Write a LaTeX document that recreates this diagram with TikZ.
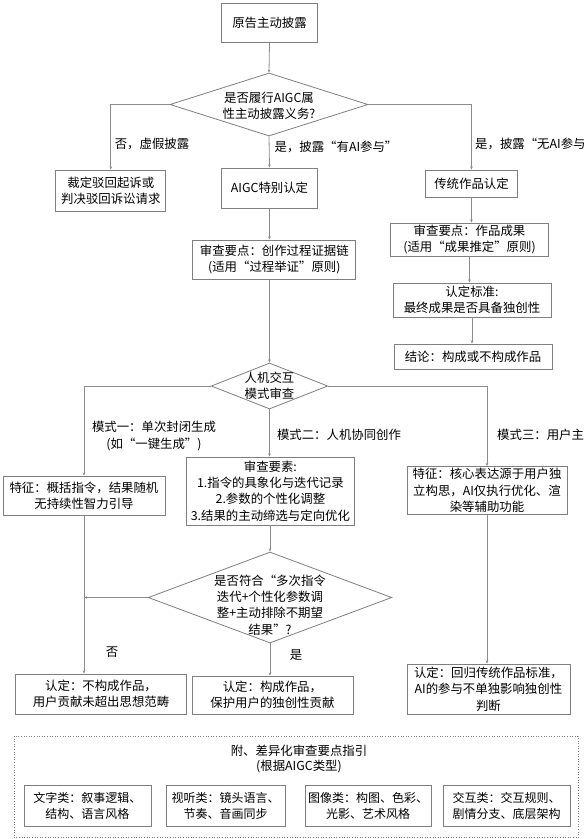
\documentclass[tikz,border=0pt]{standalone}
\usepackage{fontspec}
\setmainfont{Noto Sans CJK SC}
\usetikzlibrary{shapes.geometric,arrows.meta}
\definecolor{edgec}{HTML}{7F7F7F}
\definecolor{linec}{HTML}{8C8C8C}
\begin{document}
\begin{tikzpicture}[x=1pt,y=-1pt,
  every node/.style={font=\fontsize{12.4}{16.4}\selectfont, inner sep=0pt, align=center, text=black},
  box/.style={draw=edgec, line width=0.8pt, rectangle},
  dia/.style={draw=edgec, line width=0.8pt, diamond},
  arr/.style={draw=linec, line width=0.8pt, -{Stealth[length=3.2pt,width=2.6pt]}},
  ln/.style={draw=linec, line width=0.8pt},
  small/.style={font=\fontsize{12}{16}\selectfont}]
\useasboundingbox (0,0) rectangle (584,839);

% top part
\node[box, minimum width=96pt, minimum height=39pt] (n1) at (269.5,22.5) {原告主动披露};
\node[dia, minimum width=198pt, minimum height=63pt] (d1) at (269,104.5) {};
\node (d1t) at (269,106) {是否履行AIGC属\\性主动披露义务?};
\node[box, minimum width=110pt, minimum height=41pt] (bleft) at (110.8,190.5) {裁定驳回起诉或\\判决驳回诉讼请求};
\node[box, minimum width=96pt, minimum height=40pt] (baigc) at (269.5,188) {AIGC特别认定};
\node[box, minimum width=92pt, minimum height=27pt] (btrad) at (471.5,183.5) {传统作品认定};

\node (l1) at (152,144) {否，虚假披露};
\node (l2) at (336,147) {是，披露“有AI参与”};
\node[anchor=west] (l3) at (475,144) {是，披露“无AI参与};

\draw[arr] (n1.south) -- (d1.north);
\draw[arr] (d1.west) -| (bleft.north);
\draw[arr] (d1.south) -- (baigc.north);
\draw[arr] (d1.east) -| (btrad.north);

% middle column
\node[box, minimum width=163pt, minimum height=39pt] (bproc) at (274.3,259.5) {审查要点：创作过程证据链\\(适用“过程举证”原则)};
\node[box, minimum width=158pt, minimum height=33pt] (bres) at (469.5,239.5) {审查要点：作品成果\\(适用“成果推定”原则)};
\node[box, minimum width=158pt, minimum height=34pt] (bstd) at (472,300) {认定标准:\\最终成果是否具备独创性};
\node[box, minimum width=158pt, minimum height=25pt] (bcon) at (473,356.5) {结论：构成或不构成作品};

\draw[arr] (baigc.south) -- (baigc.south |- bproc.north);
\draw[arr] (btrad.south) -- (btrad.south |- bres.north);
\draw[arr] (bres.south) -- (bres.south |- bstd.north);
\draw[arr] (bstd.south) -- (bstd.south |- bcon.north);

\node[dia, minimum width=116.5pt, minimum height=46pt] (d2) at (269.5,386) {};
\node (d2t) at (269.5,385.5) {人机交互\\模式审查};
\draw[arr] (d2.north |- bproc.south) -- (d2.north);

\node[box, minimum width=162pt, minimum height=39pt] (bf1) at (84,495.5) {特征：概括指令，结果随机\\无持续性智力引导};
\node[box, minimum width=168pt, minimum height=68pt] (belem) at (270.4,491) {审查要素:\\1.指令的具象化与迭代记录\\2.参数的个性化调整\\3.结果的主动缔选与定向优化};
\node[box, minimum width=160pt, minimum height=48pt] (bf3) at (487,490.5) {特征：核心表达源于用户独\\立构思，AI仅执行优化、渲\\染等辅助功能};

\node (m1) at (154,436) {模式一：单次封闭生成\\(如“一键生成”)};
\node (m2) at (339,435) {模式二：人机协同创作};
\node[anchor=west] (m3) at (497,435) {模式三：用户主};

\draw[arr] (d2.west) -| (bf1.north);
\draw[arr] (d2.south) -- (d2.south |- belem.north);
\draw[arr] (d2.east) -| (bf3.north);

\node[dia, minimum width=243.6pt, minimum height=91pt] (d3) at (270,597.5) {};
\node (d3t) at (270,605) {是否符合“多次指令\\迭代+个性化参数调\\整+主动排除不期望\\结果”?};
\draw[arr] (d3.north |- belem.south) -- (d3.north);

\node[box, minimum width=170.6pt, minimum height=40pt] (bno) at (101,694) {认定：不构成作品，\\用户贡献未超出思想范畴};
\node[box, minimum width=161pt, minimum height=38pt] (byes) at (272.4,695) {认定：构成作品，\\保护用户的独创性贡献};
\node[box, minimum width=163pt, minimum height=50pt] (btrad2) at (488.4,689) {认定：回归传统作品标准，\\AI的参与不单独影响独创性\\判断};

\node (lno) at (112,652) {否};
\node (lyes) at (296,655) {是};

\draw[arr] (bf1.south) -- (bf1.south |- bno.north);
\draw[arr] (d3.west) -- (d3.west -| bf1.south);
\draw[arr] (d3.south) -- (d3.south |- byes.north);
\draw[arr] (bf3.south) -- (bf3.south |- btrad2.north);

% appendix
\draw[draw=edgec, line width=0.6pt, dotted] (14,736) rectangle (578,837.5);
\node[font=\fontsize{12.4}{15}\selectfont] (title) at (299,759) {附、差异化审查要点指引\\(根据AIGC类型)};
\node[box, small, minimum width=127pt, minimum height=41pt] (g1) at (87.5,805.5) {文字类：叙事逻辑、\\结构、语言风格};
\node[box, small, minimum width=119pt, minimum height=41pt] (g2) at (225.5,805.5) {视听类：镜头语言、\\节奏、音画同步};
\node[box, small, minimum width=126pt, minimum height=41pt] (g3) at (368,805.5) {图像类：构图、色彩、\\光影、艺术风格};
\node[box, small, minimum width=127pt, minimum height=41pt] (g4) at (506.5,805.5) {交互类：交互规则、\\剧情分支、底层架构};
\end{tikzpicture}
\end{document}
